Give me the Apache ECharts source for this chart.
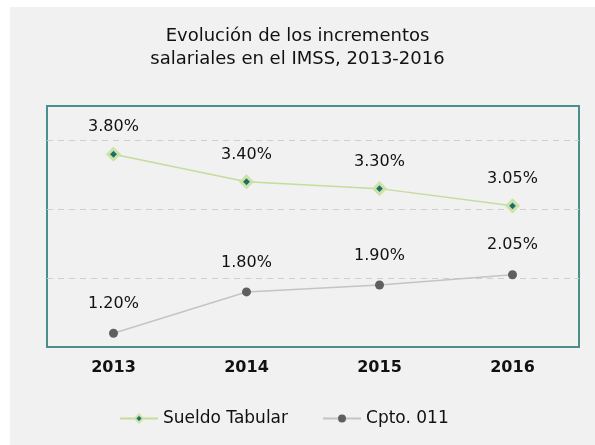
<!DOCTYPE html>
<html>
<head>
<meta charset="utf-8">
<script src="https://cdn.jsdelivr.net/npm/echarts@6/dist/echarts.min.js"></script>
<style>
  html, body { margin: 0; padding: 0; background: #fff; }
  #chart { width: 595px; height: 445px; }
</style>
</head>
<body>
<div id="chart"></div>
<script>
const years = ["2013", "2014", "2015", "2016"];
const sueldoTabular = [3.8, 3.4, 3.3, 3.05];
const cpto011 = [1.2, 1.8, 1.9, 2.05];

const font = "DejaVu Sans";

const chart = echarts.init(document.getElementById("chart"));

const option = {
  backgroundColor: "#fff",
  animation: false,
  graphic: [
    {
      type: "rect",
      z: -10,
      shape: { x: 10, y: 7, width: 585, height: 438 },
      style: { fill: "#f1f1f1" },
      silent: true,
    },
  ],
  title: {
    text: "Evolución de los incrementos\nsalariales en el IMSS, 2013-2016",
    left: "center",
    top: 20,
    textStyle: {
      fontFamily: font,
      fontSize: 18,
      fontWeight: "normal",
      color: "#111",
      lineHeight: 23,
    },
  },
  grid: {
    left: 47,
    right: 16,
    top: 106,
    bottom: 98,
    show: true,
    borderColor: "#4a8f8c",
    borderWidth: 2,
    backgroundColor: "transparent",
  },
  legend: {
    bottom: 13,
    left: 114,
    itemWidth: 38,
    itemHeight: 10,
    itemGap: 34,
    textStyle: {
      fontFamily: font,
      fontSize: 17,
      color: "#111",
    },
    data: ["Sueldo Tabular", "Cpto. 011"],
  },
  xAxis: {
    type: "category",
    data: years,
    boundaryGap: true,
    axisLine: { show: false },
    axisTick: { show: false },
    axisLabel: {
      margin: 13,
      fontFamily: font,
      fontSize: 16,
      fontWeight: "bold",
      color: "#111",
    },
  },
  yAxis: {
    type: "value",
    min: 1,
    max: 4.5,
    interval: 1,
    axisLine: { show: false },
    axisTick: { show: false },
    axisLabel: { show: false },
    splitLine: {
      showMinLine: false,
      showMaxLine: false,
      lineStyle: { color: "#cfcfcf", type: [6, 5], width: 1 },
    },
  },
  series: [
    {
      name: "Sueldo Tabular",
      type: "line",
      data: sueldoTabular,
      symbol: "diamond",
      symbolSize: 11,
      lineStyle: { color: "#c5dc9a", width: 1.5 },
      itemStyle: { color: "#17706b", borderColor: "#cde2a6", borderWidth: 3 },
      label: {
        show: true,
        position: "top",
        distance: 12,
        formatter: (p) => p.value.toFixed(2) + "%",
        fontFamily: font,
        fontSize: 16,
        color: "#111",
      },
    },
    {
      name: "Cpto. 011",
      type: "line",
      data: cpto011,
      symbol: "circle",
      symbolSize: 9,
      lineStyle: { color: "#c4c4c4", width: 1.5 },
      itemStyle: { color: "#5f5f5f" },
      label: {
        show: true,
        position: "top",
        distance: 17,
        formatter: (p) => p.value.toFixed(2) + "%",
        fontFamily: font,
        fontSize: 16,
        color: "#111",
      },
    },
  ],
};

chart.setOption(option);
</script>
</body>
</html>
